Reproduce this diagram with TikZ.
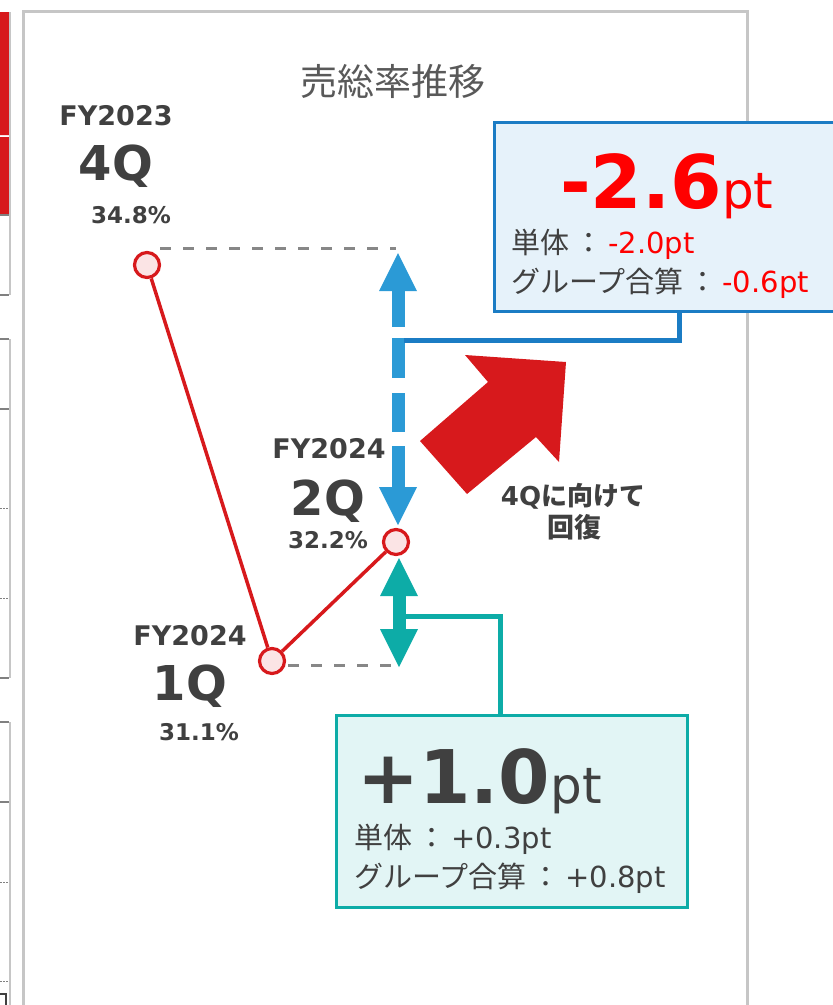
\documentclass[tikz,border=0pt]{standalone}
\usepackage{fontspec}
\setmainfont{DejaVu Sans}
\newfontfamily\jp{Noto Sans CJK JP}
\usetikzlibrary{arrows.meta}
\definecolor{txtgray}{HTML}{404040}
\definecolor{ttlgray}{HTML}{595959}
\definecolor{linered}{HTML}{D7191C}
\definecolor{dotfill}{HTML}{FBE4E5}
\definecolor{hotred}{HTML}{FF0000}
\definecolor{arrblue}{HTML}{2B9AD6}
\definecolor{boxblue}{HTML}{1B7CC4}
\definecolor{fillblue}{HTML}{E6F2FA}
\definecolor{teal}{HTML}{0DACA7}
\definecolor{fillteal}{HTML}{E2F5F5}
\definecolor{panelgray}{HTML}{C6C6C6}
\definecolor{dashgray}{HTML}{878787}
\definecolor{rulegray}{HTML}{808080}
\newcommand\fsz[1]{\fontsize{#1}{#1}\selectfont}
\newcommand\jcolon{\hspace{5pt}{\jp ：}\hspace{5pt}}

\begin{document}
\begin{tikzpicture}[x=1pt, y=-1pt, line join=miter,
    txt/.style={inner sep=0pt, text=txtgray, anchor=base},
    ptdot/.style={circle, draw=linered, fill=dotfill, line width=3.2pt, minimum size=25pt, inner sep=0pt},
    gdash/.style={draw=dashgray, line width=3pt, dash pattern=on 11pt off 12pt},
    infobox/.style={rectangle, line width=3pt, inner sep=0pt, anchor=north west}]
    \useasboundingbox (0,0) rectangle (833,1005);
    % left strip of the next panel
    \fill[linered] (0,12) rectangle (9,135) (0,137) rectangle (9,215);
    \draw[panelgray, line width=2pt] (9.5,12) -- (9.5,295) (9.5,339) -- (9.5,678) (9.5,722) -- (9.5,1005);
    \draw[rulegray, line width=1.5pt] (0,215) -- (9,215) (0,295) -- (9,295) (0,339) -- (9,339) (0,409) -- (9,409)
        (0,678) -- (9,678) (0,722) -- (9,722) (0,802) -- (9,802);
    \draw[rulegray, line width=1pt, dash pattern=on 1.5pt off 1.5pt] (0,508) -- (9,508) (0,598) -- (9,598)
        (0,882) -- (9,882) (0,981) -- (9,981);
    \draw[txtgray, line width=2.5pt] (0,994) -- (6,994) -- (6,1005);
    % panel
    \draw[panelgray, line width=3pt] (23.5,1015) -- (23.5,11) -- (747.5,11) -- (747.5,1015);
    \node[inner sep=0pt, anchor=base, text=ttlgray, font=\jp\fsz{37}] (title) at (393,95) {売総率推移};
    % guide lines and points
    \path
    (160,248) coordinate (g4a) (396,248) coordinate (g4b)
    (288,665) coordinate (g1a) (392,665) coordinate (g1b);
    \draw[gdash] (g4a) -- (g4b);
    \draw[gdash] (g1a) -- (g1b);
    \foreach \q/\x/\y in {q4/147/265, q1/272/661, q2/396/542}
    \node[ptdot] (\q) at (\x,\y) {};
    \draw[linered, line width=3.5pt] (q4) -- (q1) -- (q2);
    % labels
    \node[txt, font=\fsz{27}\bfseries] (fy23) at (116,125) {FY2023};
    \node[txt, font=\fsz{48}\bfseries] (l4) at (116,180) {4Q};
    \node[txt, font=\fsz{23}\bfseries] (p4) at (131,223) {34.8\%};
    \node[txt, font=\fsz{27}\bfseries] (fy24b) at (329,458) {FY2024};
    \node[txt, font=\fsz{48}\bfseries] (l2) at (328,515) {2Q};
    \node[txt, font=\fsz{23}\bfseries] (p2) at (328,548) {32.2\%};
    \node[txt, font=\fsz{27}\bfseries] (fy24a) at (190,645) {FY2024};
    \node[txt, font=\fsz{48}\bfseries] (l1) at (190,700) {1Q};
    \node[txt, font=\fsz{23}\bfseries] (p1) at (199,740) {31.1\%};
    % measure arrows
    \path
    (398,253) coordinate (ba) (398,525) coordinate (bb)
    (399,558) coordinate (ta) (399,667) coordinate (tb);
    \draw[arrblue, line width=13pt, {Triangle[width=38pt, length=38pt, line width=0pt]}-{Triangle[width=38pt, length=38pt, line width=0pt]},
        dash pattern=on 36pt off 11pt on 40pt off 15pt on 39pt off 14pt on 60pt] (ba) -- (bb);
    \draw[teal, line width=13pt, {Triangle[width=38pt, length=38pt, line width=0pt]}-{Triangle[width=38pt, length=38pt, line width=0pt]}] (ta) -- (tb);
    % recovery arrow
    \fill[linered] (465,355) -- (566,362) -- (559,462) -- (536,437) -- (467,494) -- (420,441) -- (488,382) -- cycle;
    \node[txt, font=\fsz{26}\bfseries] (rc1) at (573,505) {4Q{\jp\bfseries に向けて}};
    \node[txt, font=\jp\bfseries\fsz{27}] (rc2) at (574,537) {回復};
    % boxes
    \node[infobox, draw=boxblue, fill=fillblue, minimum width=360pt, minimum height=189pt] (bbox) at (493,121) {};
    \node[inner sep=0pt, anchor=base west, text=hotred] (bbig) at (560,208)
        {{\fsz{74}\bfseries -2.6}{\fsz{50}pt}};
    \node[txt, anchor=base west, font=\fsz{29}] (bl1) at (511,253) {{\jp 単体}\jcolon\textcolor{hotred}{-2.0pt}};
    \node[txt, anchor=base west, font=\fsz{29}] (bl2) at (511,292) {{\jp グループ合算}\jcolon\textcolor{hotred}{-0.6pt}};
    \node[infobox, draw=teal, fill=fillteal, minimum width=351pt, minimum height=192pt] (tbox) at (335,714) {};
    \node[txt, anchor=base west] (tbig) at (357,803)
        {{\fsz{74}\bfseries +1.0}{\fsz{50}pt}};
    \node[txt, anchor=base west, font=\fsz{29}] (tl1) at (354,848) {{\jp 単体}\jcolon+0.3pt};
    \node[txt, anchor=base west, font=\fsz{29}] (tl2) at (354,887) {{\jp グループ合算}\jcolon+0.8pt};
    % connectors
    \path
    (679,0) coordinate (bk) (404,340.5) coordinate (bj)
    (500.5,0) coordinate (tk) (405,616) coordinate (tj);
    \draw[boxblue, line width=5pt] (bk |- bbox.south) |- (bj);
    \draw[teal, line width=5pt] (tk |- tbox.north) |- (tj);
\end{tikzpicture}
\end{document}
